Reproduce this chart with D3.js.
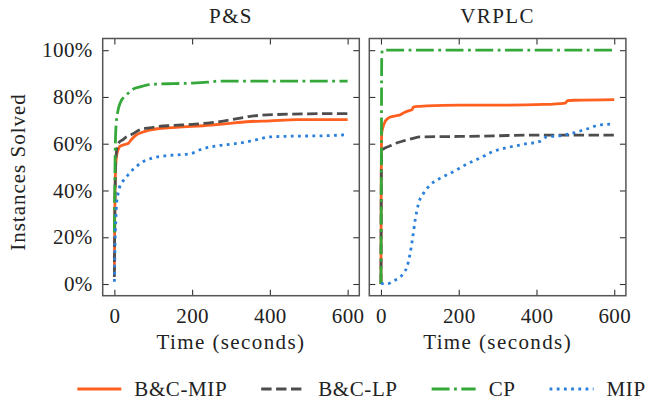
<!DOCTYPE html>
<html><head><meta charset="utf-8">
<script src="https://cdn.jsdelivr.net/npm/d3@7"></script>
<style>body{margin:0;background:#fff}text{font-family:"Liberation Serif",serif;fill:#222}</style>
</head><body><svg id="c" width="648" height="401"></svg>
<script>
const panels = ["P&S", "VRPLC"];
const seriesNames = ["B&C-MIP", "B&C-LP", "CP", "MIP"];
const xTicks = [0, 200, 400, 600];
const yTicks = [0, 20, 40, 60, 80, 100];
const xLabel = "Time (seconds)";
const yLabel = "Instances Solved";

// P&S  [time, % solved]
const psBCMIP = [[0,6],[1,28],[2,42],[4,52],[7,56],[10,57.5],[14,58.9],[25,59.6],[36,60.2],[45,62],[55,63.6],[70,64.8],[90,65.8],[110,66.4],[150,66.9],[200,67.4],[250,68],[290,68.6],[340,69.4],[400,69.8],[470,70.3],[600,70.3]];
const psBCLP = [[0,3],[1,25],[2,40],[3,50],[5,56],[8,59],[12,60.5],[20,61.5],[30,62.8],[45,64],[66,66],[90,66.8],[110,67.3],[150,67.8],[200,68.3],[250,69],[280,69.7],[320,70.8],[345,71.6],[380,72.2],[420,72.5],[500,72.8],[600,72.9]];
const psCP = [[0,22],[1,40],[2,55],[3,63],[5,69],[8,73],[12,76],[18,78.5],[25,80],[35,81.5],[50,83.5],[66,84.3],[80,85],[110,85.5],[150,85.7],[200,85.9],[240,86.3],[270,86.8],[350,86.8],[450,86.8],[600,86.8]];
const psMIP = [[0,1],[1,10],[2,20],[4,28],[6,34.7],[10,39],[14,41.7],[22,44],[32,46],[45,48.5],[57,50.3],[70,52],[83,53],[100,54],[135,54.9],[195,55.7],[220,57.4],[263,59.1],[300,59.8],[323,60.3],[366,61.7],[400,62.9],[450,63.2],[540,63.4],[600,63.9]];

// VRPLC
const vrBCMIP = [[0,0],[0.5,30],[1,55],[2,64.6],[5,67],[11,69.6],[18,70.8],[24,71.4],[40,72],[50,72.4],[60,73.4],[75,74.3],[80,74.5],[83,75.7],[100,76],[118,76.2],[200,76.5],[300,76.5],[418,76.8],[474,77.4],[480,78.4],[500,78.6],[600,78.9]];
const vrBCLP = [[0,0],[0.5,30],[1,50],[2,56],[5,57.5],[12,58.3],[24,59.1],[40,60.3],[60,61.3],[80,62.2],[101,62.9],[200,63.1],[300,63.4],[375,63.7],[600,63.7]];
const vrCP = [[0,0],[1,50],[2,98],[4,100],[600,100]];
const vrMIP = [[0,0.3],[15,0],[33,1.4],[50,3.1],[60,5],[67,7.4],[75,13.1],[82,20.3],[88,27.4],[97,34.6],[110,38.9],[127,42.4],[153,45.3],[187,48.1],[221,51.3],[255,53.9],[289,56.7],[332,58.6],[375,60],[409,61],[426,62.9],[460,63.4],[495,64.6],[529,66.3],[564,68.1],[598,68.4]];

const panelData = [[psBCMIP, psBCLP, psCP, psMIP], [vrBCMIP, vrBCLP, vrCP, vrMIP]];

const colors = ["#ff5f1f", "#4d4d4d", "#35a83a", "#2b80db"];
const lw = 2.8;
const dashes = [null, "10.4,4.5", "17.9,4.5,2.8,4.5", "2.8,4.4"];

const svg = d3.select("#c");
const panelLeft = [102.7, 369.3];
const pw = 256.6, pTop = 38.5, ph = 257.2;

const y = d3.scaleLinear().domain([-5, 105]).range([pTop + ph, pTop]);

panels.forEach((name, i) => {
  const x0 = panelLeft[i];
  const x = d3.scaleLinear().domain([-30, 630]).range([x0, x0 + pw]);
  const g = svg.append("g");
  const clipId = "clip" + i;
  g.append("clipPath").attr("id", clipId).append("rect")
    .attr("x", x0).attr("y", pTop).attr("width", pw).attr("height", ph);

  const line = d3.line().x(d => x(d[0])).y(d => y(d[1])).curve(d3.curveMonotoneX);
  panelData[i].forEach((s, k) => {
    g.append("path").datum(s).attr("d", line)
      .attr("fill", "none").attr("stroke", colors[k]).attr("stroke-width", lw)
      .attr("stroke-dasharray", dashes[k]).attr("clip-path", `url(#${clipId})`);
  });

  const tl = 6;
  const axB = d3.axisBottom(x).tickValues(xTicks).tickSizeInner(-tl).tickSizeOuter(0).tickPadding(12);
  const axT = d3.axisTop(x).tickValues(xTicks).tickSizeInner(-tl).tickSizeOuter(0).tickFormat("");
  const axL = d3.axisLeft(y).tickValues(yTicks).tickSizeInner(-tl).tickSizeOuter(0).tickPadding(10).tickFormat(d => d + "%");
  const axR = d3.axisRight(y).tickValues(yTicks).tickSizeInner(-tl).tickSizeOuter(0).tickFormat("");

  const gb = g.append("g").attr("transform", `translate(0,${pTop + ph})`).call(axB);
  const gt = g.append("g").attr("transform", `translate(0,${pTop})`).call(axT);
  const gl = g.append("g").attr("transform", `translate(${x0},0)`).call(axL);
  const gr = g.append("g").attr("transform", `translate(${x0 + pw},0)`).call(axR);
  if (i === 1) gl.selectAll("text").remove();
  [gb, gt, gl, gr].forEach(a => {
    a.select(".domain").remove();
    a.selectAll("line").attr("stroke", "#333").attr("stroke-width", 1.1);
    a.selectAll("text").attr("font-family", "Liberation Serif").attr("font-size", 21).attr("fill", "#222")
      .attr("letter-spacing", 0.4);
  });
  g.append("rect").attr("x", x0).attr("y", pTop).attr("width", pw).attr("height", ph)
    .attr("fill", "none").attr("stroke", "#555").attr("stroke-width", 1.5);

  g.append("text").attr("x", x0 + pw / 2).attr("y", 23).attr("text-anchor", "middle")
    .attr("font-size", 21).attr("letter-spacing", 1.4).text(name);
  g.append("text").attr("x", x0 + pw / 2).attr("y", 349).attr("text-anchor", "middle")
    .attr("font-size", 21).attr("letter-spacing", 1.4).text(xLabel);
});

svg.append("text").attr("transform", "translate(25,172) rotate(-90)").attr("text-anchor", "middle")
  .attr("font-size", 21).attr("letter-spacing", 1.0).text(yLabel);

const leg = svg.append("g");
const handleLen = 44, textGap = 13, entryGap = 34, ly = 389;
let cx = 0;
seriesNames.forEach((n, k) => {
  const it = leg.append("g");
  it.append("line").attr("x1", cx).attr("x2", cx + handleLen).attr("y1", ly).attr("y2", ly)
    .attr("stroke", colors[k]).attr("stroke-width", lw).attr("stroke-dasharray", dashes[k]);
  const t = it.append("text").attr("x", cx + handleLen + textGap).attr("y", ly).attr("dy", "0.35em")
    .attr("font-size", 21).attr("letter-spacing", 0.6).text(n);
  cx += handleLen + textGap + t.node().getComputedTextLength() + entryGap;
});
const total = cx - entryGap;
leg.attr("transform", `translate(${361.5 - total / 2},0)`);
</script></body></html>
